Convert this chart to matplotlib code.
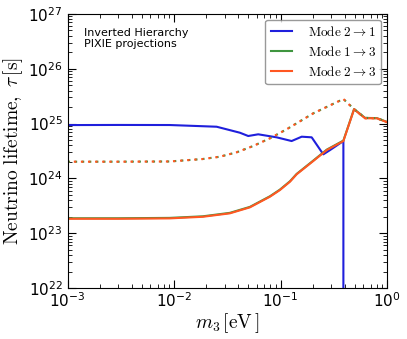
import matplotlib
matplotlib.use("Agg")
import matplotlib.pyplot as plt
from matplotlib.ticker import LogLocator, NullFormatter

plt.rcParams["mathtext.fontset"] = "cm"
plt.rcParams["axes.unicode_minus"] = False

# Mode 2 -> 1 (blue)
m21 = [1e-3, 3e-3, 9.1e-3, 0.0251, 0.0415, 0.0497, 0.0617, 0.0918, 0.127, 0.158, 0.196, 0.252, 0.292, 0.389, 0.389]
tau21 = [9.4e24, 9.45e24, 9.42e24, 8.77e24, 6.82e24, 5.94e24, 6.38e24, 5.62e24, 4.81e24, 5.77e24, 5.62e24,
         2.75e24, 3.3e24, 4.81e24, 1e21]

# Mode 1 -> 3 / 2 -> 3 (solid)
m3 = [1e-3, 3e-3, 9.1e-3, 0.0186, 0.0334, 0.0515, 0.0794, 0.0986, 0.1225, 0.1416, 0.203, 0.272, 0.389,
      0.49, 0.622, 0.802, 1.0]
tau13 = [1.88e23, 1.88e23, 1.91e23, 2.04e23, 2.36e23, 3.03e23, 4.73e23, 6.26e23, 8.88e23, 1.21e24, 2.12e24,
         3.36e24, 4.9e24, 1.84e25, 1.27e25, 1.26e25, 1.07e25]
tau23 = [1.84e23, 1.84e23, 1.87e23, 2.0e23, 2.31e23, 2.97e23, 4.64e23, 6.14e23, 8.71e23, 1.19e24, 2.08e24,
         3.3e24, 4.81e24, 1.82e25, 1.25e25, 1.25e25, 1.06e25]

# dotted curves (1 -> 3 and 2 -> 3 lie on top of each other)
m_dot = [1e-3, 3e-3, 9.1e-3, 0.0186, 0.0269, 0.0386, 0.0553, 0.0794, 0.114, 0.203, 0.389, 0.49, 0.622,
         0.802, 1.0]
tau_dot13 = [2.02e24, 2.02e24, 2.04e24, 2.26e24, 2.49e24, 2.99e24, 3.9e24, 5.39e24, 7.87e24, 1.54e25,
             2.81e25, 1.84e25, 1.27e25, 1.26e25, 1.07e25]
tau_dot23 = [2.02e24, 2.02e24, 2.04e24, 2.26e24, 2.49e24, 2.99e24, 3.9e24, 5.39e24, 7.87e24, 1.54e25,
             2.81e25, 1.82e25, 1.25e25, 1.25e25, 1.06e25]

blue = "#1f1fdc"
green = "#3f953f"
orange = "#ff5722"

fig = plt.figure(figsize=(4.07, 3.39), dpi=100)
ax = fig.add_axes([0.166, 0.150, 0.785, 0.809])

ax.plot(m21, tau21, color=blue, lw=1.5, label=r"$\mathrm{Mode\ 2 \rightarrow 1}$")
ax.plot(m3, tau13, color=green, lw=1.5, label=r"$\mathrm{Mode\ 1 \rightarrow 3}$")
ax.plot(m3, tau23, color=orange, lw=1.5, label=r"$\mathrm{Mode\ 2 \rightarrow 3}$")
ax.plot(m_dot, tau_dot13, color=green, lw=1.5, ls=(0, (1.2, 2.2)))
ax.plot(m_dot, tau_dot23, color=orange, lw=1.5, ls=(0.4, (1.2, 2.2)))

ax.set_xscale("log")
ax.set_yscale("log")
ax.set_xlim(1e-3, 1)
ax.set_ylim(1e22, 1e27)
ax.yaxis.set_major_locator(LogLocator(base=10, numticks=10))
ax.yaxis.set_minor_locator(LogLocator(base=10, subs=range(2, 10), numticks=20))
ax.yaxis.set_minor_formatter(NullFormatter())
ax.tick_params(which="both", direction="in", top=True, right=True, labelsize=11)
ax.tick_params(which="major", length=6)
ax.tick_params(which="minor", length=3)
ax.tick_params(axis="x", pad=2)

ax.set_xlabel(r"$m_3\,[\mathrm{eV}\,]$", fontsize=14, labelpad=1)
ax.set_ylabel(r"$\mathrm{Neutrino\ lifetime,}\ \tau\,[\mathrm{s}]$", fontsize=14, labelpad=2)

ax.text(0.05, 0.95, "Inverted Hierarchy\nPIXIE projections", transform=ax.transAxes,
        fontsize=8, va="top", ha="left", linespacing=1.2)

leg = ax.legend(loc="upper right", fontsize=9.5, handlelength=1.6, borderaxespad=0.45,
                labelspacing=0.45, handletextpad=1.2)
leg.get_frame().set_edgecolor("gray")

fig.savefig("out.png", dpi=100)
